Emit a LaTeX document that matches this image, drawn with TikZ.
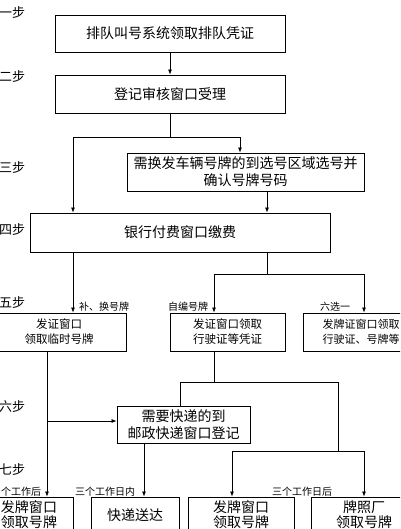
\documentclass[tikz,border=0pt]{standalone}
\usepackage{fontspec}
\newfontfamily\cjk{Noto Sans CJK SC}
\usetikzlibrary{arrows.meta}
\tikzset{
  box/.style={draw, line width=0.9pt, inner sep=0pt, align=center, font=\cjk\fontsize{14}{17}\selectfont},
  smallbox/.style={box, font=\cjk\fontsize{11.5}{15}\selectfont},
  lowbox/.style={box, font=\cjk\fontsize{14}{15}\selectfont},
  steplabel/.style={anchor=west, inner sep=0pt, font=\cjk\fontsize{13}{15}\selectfont},
  note/.style={anchor=west, inner sep=0pt, font=\cjk\fontsize{10}{12}\selectfont},
  line/.style={line width=0.7pt},
  arr/.style={line, -{Latex[length=5pt,width=4pt]}}
}
\begin{document}
\begin{tikzpicture}[x=1pt,y=-1pt]
\useasboundingbox (0,0) rectangle (400,529);
\clip (0,0) rectangle (400,529);
\fill[white] (0,0) rectangle (400,529);
% boxes
\node[box, minimum width=230pt, minimum height=37pt] (b1) at (170,33.5) {排队叫号系统领取排队凭证};
\node[box, minimum width=230pt, minimum height=38pt] (b2) at (170,94) {登记审核窗口受理};
\node[box, minimum width=237pt, minimum height=38pt] (b3) at (245.5,172) {需换发车辆号牌的到选号区域选号并\\确认号牌号码};
\node[box, minimum width=300pt, minimum height=39pt] (b4) at (180,232.5) {银行付费窗口缴费};
\node[smallbox, minimum width=134pt, minimum height=38pt] (b5a) at (59,332) {发证窗口\\领取临时号牌};
\node[smallbox, minimum width=115pt, minimum height=38pt] (b5b) at (227.5,332) {发证窗口领取\\行驶证等凭证};
\node[smallbox, font=\cjk\fontsize{11}{15}\selectfont, minimum width=116pt, minimum height=38pt] (b5c) at (361,332) {发牌证窗口领取\\行驶证、号牌等};
\node[box, minimum width=133pt, minimum height=37pt] (b6) at (183.5,424.5) {需要快递的到\\邮政快递窗口登记};
\node[lowbox, minimum width=88pt, minimum height=36pt] (b7a) at (29,515) {发牌窗口\\领取号牌};
\node[lowbox, minimum width=88pt, minimum height=36pt] (b7b) at (135,515) {快递送达};
\node[lowbox, minimum width=106pt, minimum height=36pt] (b7c) at (241,515) {发牌窗口\\领取号牌};
\node[lowbox, minimum width=106pt, minimum height=36pt] (b7d) at (364,515) {牌照厂\\领取号牌};
% step labels
\node[steplabel] (s1) at (-1,13) {一步};
\node[steplabel] (s2) at (-1,77) {二步};
\node[steplabel] (s3) at (-1,168) {三步};
\node[steplabel] (s4) at (-1,230) {四步};
\node[steplabel] (s5) at (-1,303) {五步};
\node[steplabel] (s6) at (-1,407) {六步};
\node[steplabel] (s7) at (-1,470) {七步};
% notes
\node[note] (n1) at (79,307) {补、换号牌};
\node[note] (n2) at (168,307) {自编号牌};
\node[note] (n3) at (320,307) {六选一};
\node[note] (n4) at (1,492) {个工作后};
\node[note] (n5) at (75,492) {三个工作日内};
\node[note] (n6) at (272,492) {三个工作日后};
% junction coordinates
\coordinate (j2) at (170,137);
\coordinate (j2l) at (73,137);
\coordinate (j2r) at (240,137);
\coordinate (x267) at (267,0);
\coordinate (j4) at (267,274);
\coordinate (j4l) at (214,274);
\coordinate (j4r) at (364,274);
\coordinate (x47) at (47,0);
\coordinate (j5a) at (47,421);
\coordinate (j5) at (214,382);
\coordinate (j5l) at (180,382);
\coordinate (j5r) at (338,382);
\coordinate (j6) at (338,451);
\coordinate (j6l) at (232,451);
\coordinate (j6r) at (364,451);
\coordinate (x144) at (144,0);
% connectors
\draw[arr] (b1) -- (b2);
\draw[line] (b2) -- (j2);
\draw[arr] (j2) -- (j2l) -- (b4.north -| j2l);
\draw[arr] (j2) -- (j2r) -- (b3.north -| j2r);
\draw[arr] (b3.south -| x267) -- (b4.north -| x267);
\draw[arr] (b4.south -| j2l) -- (b5a.north -| j2l);
\draw[line] (b4.south -| j4) -- (j4);
\draw[arr] (j4) -- (j4l) -- (b5b.north -| j4l);
\draw[arr] (j4) -- (j4r) -- (b5c.north -| j4r);
\draw[arr] (b5a.south -| x47) -- (b7a.north -| x47);
\draw[arr] (j5a) -- (b6.west |- j5a);
\draw[line] (b5b.south -| j5) -- (j5);
\draw[line] (b6.north -| j5l) -- (j5l) -- (j5r) -- (j6);
\draw[arr] (j6) -- (j6l) -- (b7c.north -| j6l);
\draw[arr] (j6) -- (j6r) -- (b7d.north -| j6r);
\draw[arr] (b6.south -| x144) -- (b7b.north -| x144);
\end{tikzpicture}
\end{document}
